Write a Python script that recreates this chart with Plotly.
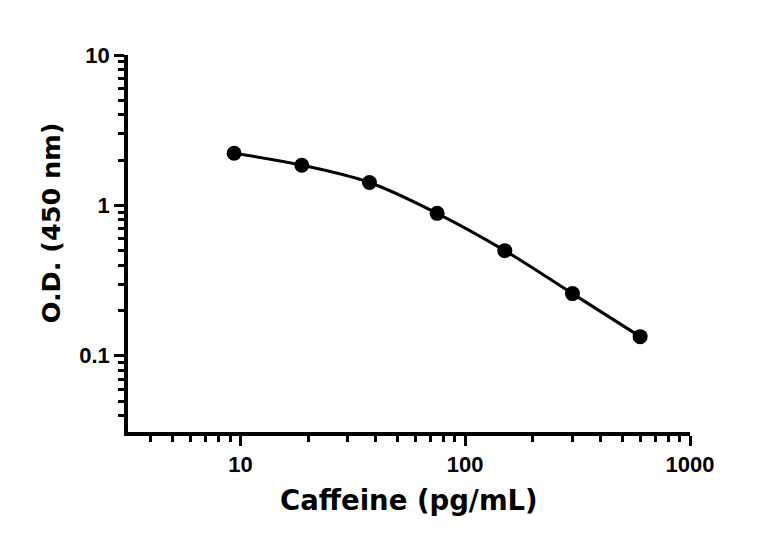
import plotly.graph_objects as go

concentration = [9.375, 18.75, 37.5, 75, 150, 300, 600]
od_450 = [2.22, 1.85, 1.42, 0.885, 0.50, 0.259, 0.134]

x_tickvals = [10, 100, 1000]
x_ticktext = ["10", "100", "1000"]
y_tickvals = [0.1, 1, 10]
y_ticktext = ["0.1", "1", "10"]
x_minor = [4, 5, 6, 7, 8, 9, 20, 30, 40, 50, 60, 70, 80, 90, 200, 300, 400, 500, 600, 700, 800, 900]
y_minor = [0.04, 0.05, 0.06, 0.07, 0.08, 0.09, 0.2, 0.3, 0.4, 0.5, 0.6, 0.7, 0.8, 0.9,
           2, 3, 4, 5, 6, 7, 8, 9]

fig = go.Figure()
fig.add_trace(go.Scatter(
    x=concentration, y=od_450, mode="lines+markers",
    line=dict(color="black", width=3, shape="spline", smoothing=1.0),
    marker=dict(color="black", size=15),
    showlegend=False,
))

tickfont = dict(family="Liberation Sans", size=22, color="black", weight="bold")
axis_common = dict(
    type="log", showline=True, linecolor="black", linewidth=3.5,
    ticks="outside", ticklen=10, tickwidth=3, tickcolor="black",
    showgrid=False, zeroline=False, tickmode="array", tickfont=tickfont,
)

fig.update_xaxes(
    range=[0.5, 3], tickvals=x_tickvals, ticktext=x_ticktext,
    minor=dict(tickmode="array", tickvals=x_minor, ticks="outside", ticklen=6,
               tickwidth=3, tickcolor="black", showgrid=False),
    **axis_common,
)
fig.update_yaxes(
    range=[-1.507, 1], tickvals=y_tickvals, ticktext=y_ticktext,
    minor=dict(tickmode="array", tickvals=y_minor, ticks="outside", ticklen=6,
               tickwidth=3, tickcolor="black", showgrid=False),
    **axis_common,
)

fig.update_layout(
    width=768, height=542,
    margin=dict(l=128, r=78, t=55, b=110),
    paper_bgcolor="white", plot_bgcolor="white",
    annotations=[
        dict(text="<b>Caffeine (pg/mL)</b>", xref="paper", yref="paper",
             x=0.5, y=-0.18, xanchor="center", yanchor="middle",
             showarrow=False, font=dict(family="DejaVu Sans", size=27.5, color="black")),
        dict(text="<b>O.D. (450 nm)</b>", xref="paper", yref="paper",
             x=-0.138, y=0.555, xanchor="center", yanchor="middle", textangle=-90,
             showarrow=False, font=dict(family="DejaVu Sans", size=25.5, color="black")),
    ],
)

fig.write_html("out.html")
